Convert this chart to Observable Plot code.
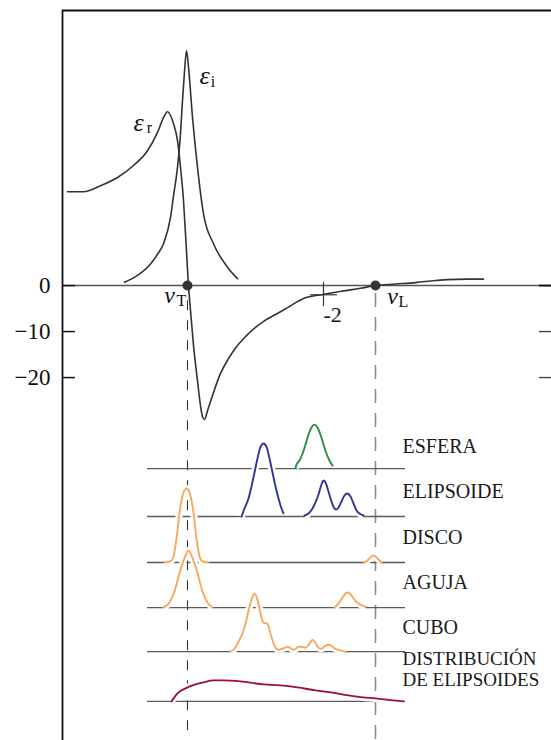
<!DOCTYPE html>
<html>
<head>
<meta charset="utf-8">
<script src="https://cdn.jsdelivr.net/npm/d3@7"></script>
<script src="https://cdn.jsdelivr.net/npm/@observablehq/plot@0.6"></script>
<style>
  body { margin: 0; background: #fff; }
  #chart svg { display: block; }
</style>
</head>
<body>
<div id="chart"></div>
<script>
// ---- data (x: frequency, arbitrary units; y: dielectric function) ----
const nuT = 125;            // transverse optical frequency
const nuL = 313;            // longitudinal optical frequency
const nuFrohlich = 261;     // where eps_r = -2
const epsFrohlich = -2;

const yTicks = [0, -10, -20];
const yTickLabels = ["0", "−10", "−20"];

// real part eps_r  [x, eps]
const epsReal = [
  [5,20.4],[21,20.4],[38,21.7],[55,23.5],[71,26.1],[85,29.3],[95,33.3],[101,36.5],
  [105,37.8],[111,35.2],[115,31.5],[118,25.7],[121,18.5],[123,11.3],[126,0],
  [128,-5.4],[131,-13.0],[135,-20.7],[138,-26.1],[140,-28.5],[142,-29.1],[145,-27.2],
  [150,-23.9],[158,-19.1],[166,-15.9],[174,-13.3],[183,-11.1],[193,-9.1],[203,-7.5],
  [213,-6.3],[225,-4.8],[241,-2.8],[261,-1.9],[280,-1.2],[298,-0.6],[313,0],
  [333,0.33],[353,0.65],[373,1.1],[385,1.3],[405,1.4],[421,1.4]
];
// imaginary part eps_i  [x, eps]
const epsImag = [
  [62,0.7],[75,2.2],[88,4.7],[95,6.8],[101,9.1],[108,14.8],[111,19.5],[115,25.7],
  [118,33],[120,40.2],[122,46.5],[124,51.1],[126,47.5],[130,36.6],[135,25.7],
  [141,15.6],[151,9.1],[165,4.0],[175,1.5]
];

// absorption spectra of small particles, [x, intensity]
const shapeNames = ["ESFERA", "ELIPSOIDE", "DISCO", "AGUJA", "CUBO", "DISTRIBUCIÓN\nDE ELIPSOIDES"];
const esfera = [
  [[233,0.5],[234,3.9],[237,8.1],[240,14.9],[243,24.1],[246,33.9],[249,41.1],[252,44],
   [255,41.1],[258,33.9],[261,24.1],[264,14.9],[267,8.1],[270,3]]
];
const elipsoide = [
  [[179,0],[182,8],[186,18],[189,30],[192,44],[195,58],[198,69.5],[201,73],[204,69.5],
   [207,58],[210,44],[213,30],[216,18],[219,8],[221,3]],
  [[242,1],[246,3],[250,8],[253,14],[256,22],[259,32],[261,36],[263,34],[266,25],[269,15],
   [272,8],[274,7],[276,9],[279,15],[282,21],[285,23],[288,20],[291,13],[294,6],[297,3],[301,1]]
];
const disco = [
  [[102,0],[106,0.5],[109,2],[111,6],[113,17],[115,32],[116.5,46],[119,62],[121,70],[124,74],
   [127,70],[129,62],[131.5,46],[133,32],[135,17],[137,6],[139,2],[142,0.5],[146,0]],
  [[302,0],[306,3],[309,6],[311,7],[313,6],[316,3],[319,0]]
];
const aguja = [
  [[101,0],[104,2],[107,5],[109,9],[112,16],[115,27],[118,38],[120,44],[123,52],[126,57],
   [129,52],[132,44],[134,38],[137,27],[140,16],[142,11],[145,5],[148,2],[150,0]],
  [[272,0],[276,4],[280,10],[283,14],[285,15],[288,13],[292,8],[296,4],[300,2],[303,1]]
];
const cubo = [
  [[168,0],[172,3],[175,8],[178,14],[181,21],[184,32],[186,41],[189,52],[192,58],[194,55],
   [196,48],[199,34],[201,29],[205,28],[208,18],[212,6],[216,2],[220,3],[225,5],[229,3],
   [232,2],[236,5],[239,5],[243,4],[247,8],[250,12],[253,9],[256,4],[259,3],[263,6],[267,7],
   [271,4],[275,2],[279,1],[283,0]]
];
const distribucion = [
  [[109,0],[115,8],[125,14],[133,17],[141,19],[151,21],[161,21],[178,20],[201,17],[218,16],
   [235,14],[253,11],[268,9],[286,6],[301,4],[313,3],[321,2],[331,1],[341,0]]
];
const spectra = [esfera, elipsoide, disco, aguja, cubo, distribucion];

// ---- layout (positions / styles) ----
const shapeColors = ["#2e8b40", "#2f3593", "#f8a85c", "#f8a85c", "#f8a85c", "#9c0c47"];
const rowBase = [-39.8, -50.2, -60.2, -70.0, -79.6, -90.4];   // baselines in eps units
const labelY  = [-34.8, -44.6, -54.6, -64.4, -74.2, -83.3];
const labelSize = [20, 20, 20, 20, 20, 19];
const intensityScale = 1 / 4.6;
const xMax = 489, yMin = -98.9, yMax = 59.8;
const serif = "'Liberation Serif', 'DejaVu Serif', serif";

const specRows = [];
spectra.forEach((segs, i) => segs.forEach((seg, j) => seg.forEach(([x, h]) =>
  specRows.push({shape: i, seg: `${i}-${j}`, x, y: rowBase[i] + h * intensityScale, color: shapeColors[i]}))));
const rows = rowBase.map((b, i) => ({y: b, ly: labelY[i], name: shapeNames[i], fs: labelSize[i]}));
const real = epsReal.map(([x, y]) => ({x, y}));
const imag = epsImag.map(([x, y]) => ({x, y}));
const ticks = yTicks.map((v, i) => ({y: v, label: yTickLabels[i]}));

const chart = Plot.plot({
  width: 551,
  height: 740,
  marginLeft: 62,
  marginRight: 0,
  marginTop: 10,
  marginBottom: 0,
  x: {domain: [0, xMax], axis: null},
  y: {domain: [yMin, yMax], axis: null},
  style: {fontFamily: serif, background: "#fff", overflow: "visible"},
  marks: [
    // frame
    Plot.ruleY([yMax], {x1: 0, x2: xMax, stroke: "#111", strokeWidth: 1.8}),
    Plot.ruleX([0], {stroke: "#111", strokeWidth: 1.8}),
    // zero line
    Plot.ruleY([0], {x1: 0, x2: xMax, stroke: "#555", strokeWidth: 1.4}),
    // left ticks
    Plot.ruleY(yTicks, {x1: 0, x2: 13, stroke: "#111", strokeWidth: 1.5}),
    // right ticks
    Plot.ruleY([0], {x1: 477, x2: xMax, stroke: "#111", strokeWidth: 1.8}),
    Plot.ruleY(yTicks.slice(1), {x1: 477, x2: xMax, stroke: "#444", strokeWidth: 1.4}),
    Plot.text(ticks, {x: 0, y: "y", text: "label", dx: -12, textAnchor: "end", lineAnchor: "middle",
      fontSize: 23, fill: "#111"}),
    // dashed verticals
    Plot.ruleX([nuT], {y1: -3.3, y2: yMin, stroke: "#333", strokeWidth: 1.1, strokeDasharray: "10,10"}),
    Plot.ruleX([nuL], {y1: -1.7, y2: yMin, stroke: "#8a8a8a", strokeWidth: 1.6, strokeDasharray: "14,10"}),
    // spectra baselines
    Plot.ruleY(rows, {y: "y", x1: 85, x2: 343, stroke: "#5a5a5a", strokeWidth: 1.3}),
    // white halos then spectra
    Plot.line(specRows, {x: "x", y: "y", z: "seg", stroke: "#fff", strokeWidth: 7, strokeLinecap: "butt",
      curve: "monotone-x"}),
    Plot.line(specRows, {x: "x", y: "y", z: "seg", stroke: "color", strokeWidth: 1.9, curve: "monotone-x"}),
    Plot.text(rows, {x: 340, y: "ly", text: "name", textAnchor: "start", lineAnchor: "middle",
      lineHeight: 1.12, fontSize: "fs", fill: "#1a1a1a"}),
    // dielectric function
    Plot.line(real, {x: "x", y: "y", stroke: "#333", strokeWidth: 1.6, curve: "monotone-x"}),
    Plot.line(imag, {x: "x", y: "y", stroke: "#333", strokeWidth: 1.6, curve: "monotone-x"}),
    // eps = -2 marker
    Plot.ruleY([epsFrohlich], {x1: nuFrohlich - 13, x2: nuFrohlich + 14, stroke: "#333", strokeWidth: 1.2}),
    Plot.ruleX([nuFrohlich], {y1: 0.65, y2: -4.6, stroke: "#333", strokeWidth: 1.2}),
    Plot.text([{x: nuFrohlich, y: -6.3, t: "-2"}], {x: "x", y: "y", text: "t", textAnchor: "start",
      lineAnchor: "middle", fontSize: 22, fill: "#111"}),
    // nu_T, nu_L points
    Plot.dot([{x: nuT, y: 0}, {x: nuL, y: 0}], {x: "x", y: "y", r: 5, fill: "#333", stroke: "none"}),
    // labels
    Plot.text([{x: 76, y: 35.4, t: "ε"}, {x: 142, y: 45.6, t: "ε"}], {x: "x", y: "y", text: "t",
      fontSize: 26, fontStyle: "italic", lineAnchor: "middle", fill: "#111"}),
    Plot.text([{x: 87, y: 34.2, t: "r"}, {x: 150.5, y: 44.2, t: "i"}], {x: "x", y: "y", text: "t",
      fontSize: 16, lineAnchor: "middle", fill: "#111"}),
    Plot.text([{x: nuT - 18, y: -2.2, t: "ν"}, {x: nuL + 17, y: -2.3, t: "ν"}], {x: "x", y: "y", text: "t",
      fontSize: 24, fontStyle: "italic", lineAnchor: "middle", fill: "#111"}),
    Plot.text([{x: nuT - 6, y: -3.4, t: "T"}, {x: nuL + 28, y: -3.6, t: "L"}], {x: "x", y: "y", text: "t",
      fontSize: 16, lineAnchor: "middle", fill: "#111"})
  ]
});
document.getElementById("chart").appendChild(chart);
</script>
</body>
</html>
